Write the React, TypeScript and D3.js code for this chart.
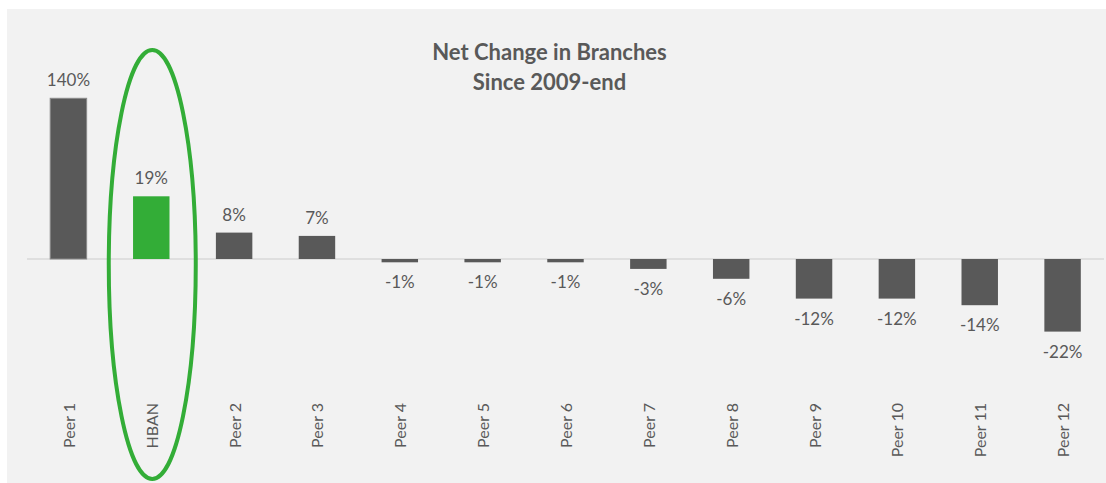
import React from "react";
import * as d3 from "d3";

const categories = ["Peer 1", "HBAN", "Peer 2", "Peer 3", "Peer 4", "Peer 5", "Peer 6", "Peer 7", "Peer 8", "Peer 9", "Peer 10", "Peer 11", "Peer 12"];
const values = [140, 19, 8, 7, -1, -1, -1, -3, -6, -12, -12, -14, -22];
const labels = ["140%", "19%", "8%", "7%", "-1%", "-1%", "-1%", "-3%", "-6%", "-12%", "-12%", "-14%", "-22%"];
const highlight = "HBAN";
const titleLines = ["Net Change in Branches", "Since 2009-end"];
// visible axis window (the 140% bar is truncated as in the original)
const yDomain = [-22, 48.7];

const W = 1106;
const H = 483;

export default function App() {
  const x = d3.scaleBand<string>().domain(categories).range([27, 1104]).paddingInner(0.56).paddingOuter(0.28);
  const y = d3.scaleLinear().domain(yDomain).range([331.6, 98.3]).clamp(true);
  const bw = x.bandwidth();
  const y0 = y(0);
  const hx = (x(highlight) as number) + bw / 2;

  return (
    <svg width={W} height={H} style={{ position: "absolute", left: 0, top: 0, background: "#ffffff" }}>
      <rect x={7} y={9} width={W - 7} height={H - 9} fill="#f2f2f2" />
      <g fontFamily="Lato, 'Open Sans', sans-serif" fill="#595959">
        {titleLines.map((t, i) => (
          <text key={t} x={549.5} y={60 + i * 30} textAnchor="middle" fontSize={22} fontWeight="bold" fill="#595959">
            {t}
          </text>
        ))}
        <line x1={27} x2={1104} y1={y0} y2={y0} stroke="#d9d9d9" strokeWidth={1.5} />
        {categories.map((c, i) => {
          const v = values[i];
          const bx = x(c) as number;
          const yt = y(Math.max(v, 0));
          const yb = y(Math.min(v, 0));
          const isH = c === highlight;
          return (
            <g key={c}>
              <rect
                x={bx}
                y={yt}
                width={bw}
                height={Math.max(yb - yt, 0)}
                fill={isH ? "#33ad37" : "#595959"}
                stroke={i === 0 ? "#8a8a8a" : "none"}
                strokeWidth={1}
              />
              <text
                x={bx + bw / 2}
                y={v >= 0 ? yt - 12 : yb + 26}
                textAnchor="middle"
                fontSize={17}
                fill="#595959"
              >
                {labels[i]}
              </text>
              <text
                transform={`translate(${bx + bw / 2},403) rotate(-90)`}
                textAnchor="end"
                dominantBaseline="central"
                fontSize={16}
                fill="#595959"
              >
                {c}
              </text>
            </g>
          );
        })}
        <ellipse cx={hx + 1} cy={264.5} rx={43.5} ry={214.5} fill="none" stroke="#33ad37" strokeWidth={4} />
      </g>
    </svg>
  );
}
